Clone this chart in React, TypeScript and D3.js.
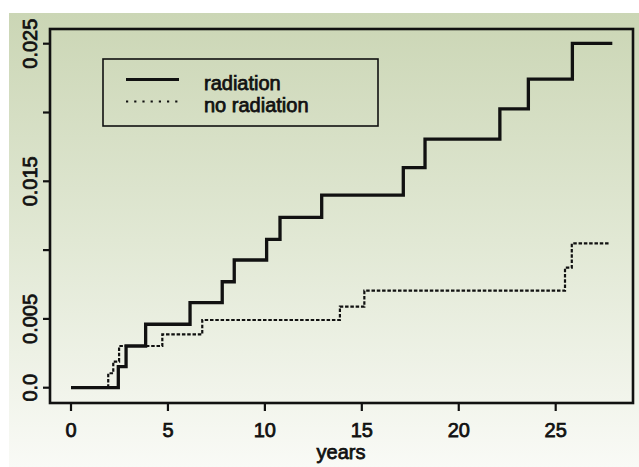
import React from "react";
import * as d3 from "d3";

// cumulative incidence
const radTimes = [0, 2.44, 2.84, 3.85, 6.14, 7.8, 8.42, 10.09, 10.78, 12.93, 17.14, 18.26, 22.12, 23.59, 25.86, 27.92];
const radValues = [0, 0.00153, 0.00303, 0.00461, 0.00618, 0.0077, 0.00928, 0.01078, 0.01238, 0.014, 0.016, 0.01807, 0.02026, 0.02243, 0.02503, 0.02503];

const noRadTimes = [0, 1.92, 2.18, 2.48, 4.71, 6.77, 13.87, 15.13, 25.48, 25.83, 27.8];
const noRadValues = [0, 0.00105, 0.0019, 0.00303, 0.00388, 0.00492, 0.00589, 0.00705, 0.00872, 0.01049, 0.01049];

const xTicks = [0, 5, 10, 15, 20, 25];
const yTicks = [0, 0.005, 0.01, 0.015, 0.02, 0.025];
const yTickLabels = ["0.0", "0.005", "", "0.015", "", "0.025"];
const seriesNames = ["radiation", "no radiation"];

const W = 639, H = 467;
const box = { left: 50, top: 29, right: 633, bottom: 403 };
const font = "'Liberation Sans', Arial, Helvetica, sans-serif";

export default function App() {
  const x = d3.scaleLinear().domain([0, 25]).range([71, 555.7]);
  const y = d3.scaleLinear().domain([0, 0.025]).range([387.7, 43.7]);

  const line = d3
    .line<[number, number]>()
    .x((d) => x(d[0]))
    .y((d) => y(d[1]))
    .curve(d3.curveStepAfter);

  const radPath = line(radTimes.map((t, i) => [t, radValues[i]]) as [number, number][]);
  const noRadPath = line(noRadTimes.map((t, i) => [t, noRadValues[i]]) as [number, number][]);

  const txt = { fontFamily: font, fontSize: 20, fill: "#111", stroke: "#111", strokeWidth: 0.75 };

  return (
    <svg width={W} height={H} style={{ position: "absolute", left: 0, top: 0, display: "block" }}>
      <defs>
        <linearGradient id="bg" x1="0" y1="0" x2="0" y2="1">
          <stop offset="0%" stopColor="#cbd6b5" />
          <stop offset="50%" stopColor="#e1e8d4" />
          <stop offset="100%" stopColor="#f9faf6" />
        </linearGradient>
      </defs>
      <rect x={0} y={0} width={W} height={H} fill="#fff" />
      <rect x={9} y={13} width={W - 9} height={H - 13} fill="url(#bg)" />

      {/* plot frame */}
      <rect
        x={box.left}
        y={box.top}
        width={box.right - box.left}
        height={box.bottom - box.top}
        fill="none"
        stroke="#111"
        strokeWidth={2.6}
      />

      {/* y axis */}
      {yTicks.map((v, i) => (
        <g key={"y" + i}>
          <line x1={box.left - 7} x2={box.left} y1={y(v)} y2={y(v)} stroke="#111" strokeWidth={2.2} />
          {yTickLabels[i] && (
            <text
              {...txt}
              transform={`translate(37,${y(v)}) rotate(-90)`}
              textAnchor="middle"
            >
              {yTickLabels[i]}
            </text>
          )}
        </g>
      ))}

      {/* x axis */}
      {xTicks.map((v) => (
        <g key={"x" + v}>
          <line x1={x(v)} x2={x(v)} y1={box.bottom} y2={box.bottom + 8} stroke="#111" strokeWidth={2.2} />
          <text {...txt} x={x(v)} y={437} textAnchor="middle">
            {v}
          </text>
        </g>
      ))}
      <text {...txt} x={341} y={459} textAnchor="middle">
        years
      </text>

      {/* curves */}
      <path d={noRadPath || ""} fill="none" stroke="#111" strokeWidth={2.2} strokeDasharray="3.5,1.8" />
      <path d={radPath || ""} fill="none" stroke="#111" strokeWidth={3.3} />

      {/* legend */}
      <rect x={103} y={59} width={275} height={67} fill="none" stroke="#111" strokeWidth={1.6} />
      <line x1={126} x2={179} y1={79.5} y2={79.5} stroke="#111" strokeWidth={3} />
      <line x1={126} x2={180} y1={101.5} y2={101.5} stroke="#111" strokeWidth={2.2} strokeDasharray="2.2,6" />
      <text {...txt} x={204} y={90}>
        {seriesNames[0]}
      </text>
      <text {...txt} x={204} y={112}>
        {seriesNames[1]}
      </text>
    </svg>
  );
}
